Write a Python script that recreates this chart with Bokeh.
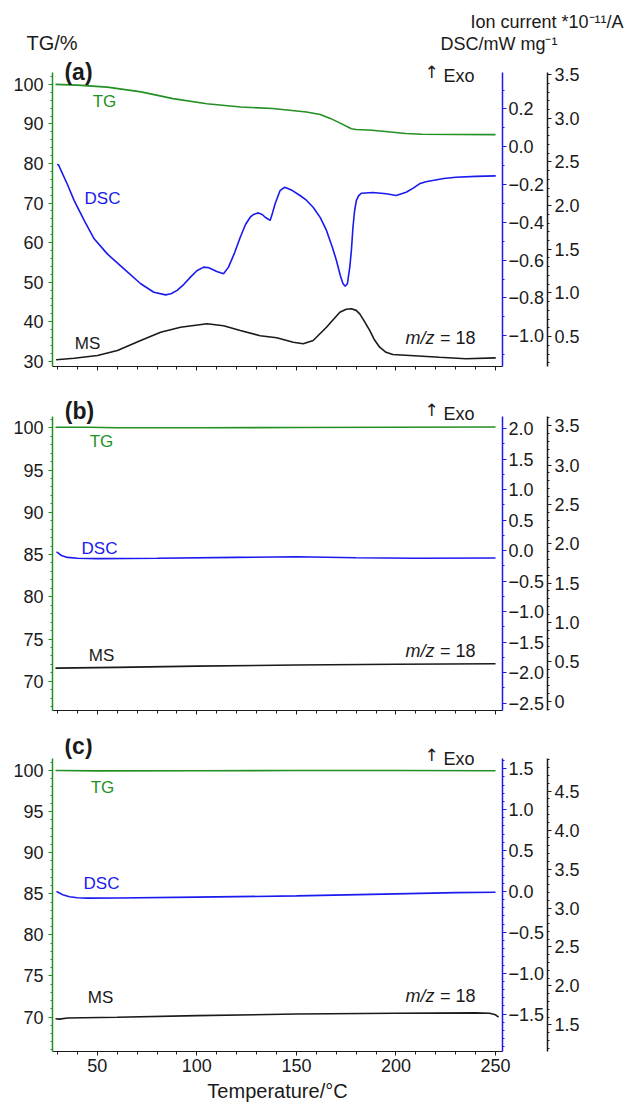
from bokeh.plotting import figure
from bokeh.models import Range1d, LinearAxis, SingleIntervalTicker, CustomJSTickFormatter, Label
from bokeh.layouts import column
from bokeh.embed import file_html
from bokeh.resources import INLINE

# ---------------- data ----------------
# Panel (a)
TEMP_A_TG = [29, 40, 55, 72, 88, 105, 122, 138, 155, 162, 167, 172, 177.6, 180, 188, 205, 213, 230, 250]
TG_A = [100.0, 99.8, 99.3, 98.1, 96.4, 95.1, 94.3, 93.9, 93.0, 92.4, 91.4, 90.2, 88.8, 88.6, 88.4, 87.6, 87.4, 87.35, 87.3]

TEMP_A_DSC = [29.8, 30.5, 32, 35, 38.4, 43.4, 48.4, 55, 63.4, 71.8, 78.4, 84.3, 87, 90.1, 93.5, 96.8, 100,
              103.4, 106, 110, 113.4, 115.9, 119, 121.8, 124.5, 126.8, 128.5, 130.9, 133, 134.3, 136.8, 138,
              139.3, 141.8, 144, 145.1, 148, 151.8, 155, 158.4, 162, 165.1, 168, 170.1, 172, 173.4, 174.5,
              175.6, 176.8, 177.6, 178.4, 179.2, 180.1, 181.2, 182.6, 188.4, 195.1, 200.1, 205.1, 208.5,
              211.8, 215, 218.4, 224, 230.1, 240, 250.1]
DSC_A = [-0.094, -0.095, -0.13, -0.20, -0.285, -0.39, -0.487, -0.567, -0.646, -0.725, -0.77, -0.784,
         -0.778, -0.76, -0.728, -0.69, -0.656, -0.637, -0.64, -0.66, -0.672, -0.637, -0.56, -0.479, -0.41,
         -0.373, -0.358, -0.35, -0.36, -0.373, -0.39, -0.35, -0.302, -0.232, -0.215, -0.218, -0.232,
         -0.258, -0.283, -0.32, -0.375, -0.443, -0.53, -0.602, -0.68, -0.725, -0.738, -0.725, -0.637,
         -0.55, -0.426, -0.34, -0.285, -0.26, -0.246, -0.242, -0.249, -0.258, -0.241, -0.22, -0.196,
         -0.185, -0.179, -0.168, -0.161, -0.157, -0.154]

TEMP_A_MS = [29.3, 38.4, 50.1, 60.1, 71.8, 81.8, 91.8, 105.1, 113.4, 121.8, 131.8, 140.1, 148.4, 153.4,
             158.4, 165.1, 171.8, 175, 177.6, 180, 181.8, 184, 186.8, 189, 191.8, 195, 198.4, 213.4,
             221.8, 235.1, 250.1]
MS_A = [0.234, 0.252, 0.283, 0.34, 0.455, 0.55, 0.607, 0.646, 0.623, 0.57, 0.509, 0.486, 0.435, 0.417,
        0.455, 0.607, 0.779, 0.812, 0.818, 0.80, 0.76, 0.68, 0.57, 0.47, 0.378, 0.32, 0.294, 0.275,
        0.263, 0.245, 0.256]

# Panel (b)
TEMP_B_TG = [29, 45, 60, 100, 150, 200, 250]
TG_B = [100.05, 100.05, 100.0, 100.0, 100.02, 100.05, 100.08]
TEMP_B_DSC = [29.5, 30.5, 32, 35, 40, 50, 80, 120, 150, 180, 210, 250]
DSC_B = [-0.02, -0.04, -0.08, -0.11, -0.125, -0.13, -0.125, -0.11, -0.10, -0.115, -0.125, -0.12]
TEMP_B_MS = [29, 60, 100, 150, 200, 250]
MS_B = [0.42, 0.43, 0.445, 0.46, 0.47, 0.475]

# Panel (c)
TEMP_C_TG = [29, 50, 100, 150, 200, 250]
TG_C = [100.0, 99.95, 99.97, 100.0, 100.0, 99.97]
TEMP_C_DSC = [29.5, 31, 33, 36, 40, 45, 60, 100, 150, 200, 230, 250]
DSC_C = [0.0, -0.02, -0.045, -0.065, -0.078, -0.082, -0.08, -0.07, -0.055, -0.03, -0.015, -0.01]
TEMP_C_MS = [29, 31, 35, 60, 100, 150, 200, 240, 247, 250, 251.5]
MS_C = [1.58, 1.575, 1.59, 1.6, 1.62, 1.64, 1.65, 1.655, 1.65, 1.63, 1.6]

X_RANGE = (27.5, 253.5)

GREEN = "#239023"
BLUE = "#1a1aee"
BLACK = "#1a1a1a"
FONT = "Liberation Sans"
TICK_PX = "18px"

DEC_CODE = """
var s = tick.toFixed(1);
if (Math.abs(tick) < 1e-9) { s = ZERO; }
return s.replace('-', '\\u2212');
"""


def fmt(zero="0.0"):
    return CustomJSTickFormatter(code=DEC_CODE.replace("ZERO", "'" + zero + "'"))


def make_label(x, y, text, color=BLACK, size="17px", align="center", style="normal", baseline="middle",
               font=FONT):
    return Label(x=x, y=y, x_units="canvas", y_units="canvas", text=text,
                 text_font=font, text_font_size=size, text_color=color,
                 text_align=align, text_baseline=baseline, text_font_style=style)


def label(p, *args, **kw):
    p.add_layout(make_label(*args, **kw))


def extend(rng, axis_px, extra_px):
    lo, hi = rng
    return (lo, hi + extra_px * (hi - lo) / axis_px)


def style_axis(ax, color, standoff, size=TICK_PX):
    ax.axis_line_color = color
    ax.axis_line_width = 1.5
    ax.major_tick_line_color = color
    ax.minor_tick_line_color = color
    ax.major_tick_out = 4
    ax.major_tick_in = 0
    ax.minor_tick_out = 2
    ax.minor_tick_in = 0
    ax.major_label_text_font = FONT
    ax.major_label_text_font_size = size
    ax.major_label_text_color = BLACK
    ax.major_label_standoff = standoff


def panel(tg_range, dsc_range, ms_range, tg_int, dsc_int, dsc_minor, ms_int, data,
          axis_px, extra_px, top, bottom, letter, lab, show_x=False, ms_zero="0.0"):
    p = figure(frame_width=450, frame_height=axis_px + extra_px, min_border_left=52, min_border_right=126,
               min_border_top=top, min_border_bottom=bottom,
               x_range=Range1d(*X_RANGE), y_range=Range1d(*extend(tg_range, axis_px, extra_px)),
               output_backend="svg", toolbar_location=None, tools="")
    p.outline_line_color = None
    p.grid.visible = False
    p.extra_y_ranges = {"dsc": Range1d(*extend(dsc_range, axis_px, extra_px)),
                        "ms": Range1d(*extend(ms_range, axis_px, extra_px))}

    # x axis
    xa = p.xaxis[0]
    xa.ticker = SingleIntervalTicker(interval=50, num_minor_ticks=5)
    style_axis(xa, BLACK, 3)
    xa.axis_line_width = 1.2
    xa.minor_tick_out = 3
    if show_x:
        xa.axis_label = "Temperature/\u00b0C"
        xa.axis_label_text_font = FONT
        xa.axis_label_text_font_size = "20px"
        xa.axis_label_text_font_style = "normal"
        xa.axis_label_text_color = BLACK
        xa.axis_label_standoff = 5
    else:
        xa.formatter = CustomJSTickFormatter(code="return '';")
        xa.major_label_standoff = 0

    # left TG axis
    ya = p.yaxis[0]
    ya.ticker = SingleIntervalTicker(interval=tg_int, num_minor_ticks=5)
    style_axis(ya, GREEN, 5)
    ya.bounds = tg_range

    # right DSC axis (blue)
    ad = LinearAxis(y_range_name="dsc", ticker=SingleIntervalTicker(interval=dsc_int, num_minor_ticks=dsc_minor),
                    formatter=fmt(), bounds=dsc_range)
    style_axis(ad, BLUE, 2)
    p.add_layout(ad, "right")

    # right MS axis (black)
    am = LinearAxis(y_range_name="ms", ticker=SingleIntervalTicker(interval=ms_int, num_minor_ticks=5),
                    formatter=fmt(ms_zero), bounds=ms_range)
    style_axis(am, BLACK, 3)
    p.add_layout(am, "right")

    (tx, ty), (dx, dy), (mx, my) = data
    p.line(tx, ty, line_color=GREEN, line_width=1.6)
    p.line(dx, dy, line_color=BLUE, line_width=1.6, y_range_name="dsc")
    p.line(mx, my, line_color=BLACK, line_width=1.6, y_range_name="ms")

    # annotations (canvas pixels of this figure)
    label(p, lab["letter"][0], lab["letter"][1], letter, size="23px", style="bold")
    label(p, lab["tg"][0], lab["tg"][1], "TG", color=GREEN)
    label(p, lab["dsc"][0], lab["dsc"][1], "DSC", color=BLUE)
    label(p, lab["ms"][0], lab["ms"][1], "MS")
    label(p, 475, lab["mz"], "= 18", align="right", size="18px")
    label(p, 434, lab["mz"], "m/z", align="right", size="18px", style="italic")
    label(p, 431, lab["exo"] - 4, "\u2191", size="17px", align="center", font="DejaVu Sans")
    label(p, 443, lab["exo"], "Exo", align="left", size="18px")
    return p


# header strip with the axis titles (labels live in side panels so they are not clipped)
head = figure(width=630, height=58, x_axis_type=None, y_axis_type=None, min_border=0,
              output_backend="svg", toolbar_location=None, tools="")
head.outline_line_color = None
head.grid.visible = False
head.add_layout(make_label(623, 21, "Ion current *10\u207b\u00b9\u00b9/A", align="right", size="18px"), "above")
head.add_layout(make_label(440, 43, "DSC/mW mg\u207b\u00b9", align="left", size="18px"), "above")
head.add_layout(make_label(26, 42, "TG/%", align="left", size="20px"), "left")

pa = panel((28.7, 103.0), (-1.163, 0.393), (0.157, 3.525), 10, 0.2, 2, 0.5,
           ((TEMP_A_TG, TG_A), (TEMP_A_DSC, DSC_A), (TEMP_A_MS, MS_A)),
           axis_px=294, extra_px=14, top=0, bottom=20, letter="(a)",
           lab={"letter": (78, 13), "tg": (104, 43), "dsc": (102, 140), "ms": (87, 285), "mz": 279, "exo": 17})

pb = panel((66.55, 101.33), (-2.62, 2.20), (-0.118, 3.616), 5, 0.5, 2, 0.5,
           ((TEMP_B_TG, TG_B), (TEMP_B_DSC, DSC_B), (TEMP_B_MS, MS_B)),
           axis_px=294, extra_px=20, top=10, bottom=20, letter="(b)",
           lab={"letter": (79, 24), "tg": (101, 55), "dsc": (99, 162), "ms": (101, 269), "mz": 264, "exo": 27},
           ms_zero="0")

pc = panel((65.81, 101.46), (-1.956, 1.624), (1.160, 4.917), 5, 0.5, 5, 0.5,
           ((TEMP_C_TG, TG_C), (TEMP_C_DSC, DSC_C), (TEMP_C_MS, MS_C)),
           axis_px=293, extra_px=20, top=8, bottom=55, letter="(c)",
           lab={"letter": (78, 15), "tg": (102, 57), "dsc": (101, 153), "ms": (100, 267), "mz": 265, "exo": 28},
           show_x=True)

layout = column(head, pa, pb, pc, spacing=0)
open("out.html", "w").write(file_html(layout, INLINE))
